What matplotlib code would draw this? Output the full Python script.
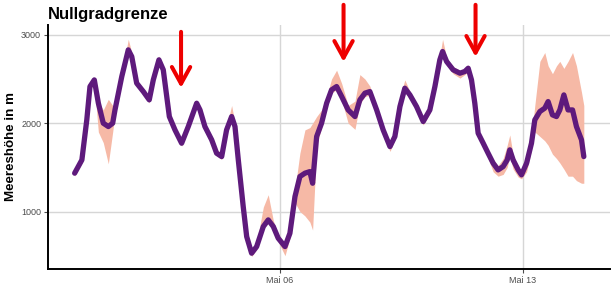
import numpy as np
import pandas as pd
import matplotlib
matplotlib.use("Agg")
import matplotlib.pyplot as plt

plt.rcParams["font.family"] = ["Liberation Sans", "DejaVu Sans"]

# Stunden seit 30. April 00:00
hours = [2, 7, 10.4, 12.6, 15.6, 18.4, 21.8, 25.3, 28.3, 29.9,
         34.6, 39.1, 41.5, 44.9, 49.5, 53.6, 56.4, 60.3, 63.3, 67.5,
         71.4, 76.0, 80.6, 86.4, 88.7, 92.1, 96.8, 100.2, 103.7, 107.1,
         110.6, 112.9, 115.2, 118.6, 121.0, 124.4, 127.9, 132.5, 135.9, 139.4,
         142.8, 147.5, 150.9, 154.4, 157.8, 161.3, 164.7, 166.6, 169.4, 172.8,
         176.3, 179.7, 183.2, 186.7, 191.2, 195.9, 199.3, 202.8, 206.2, 210.9,
         215.4, 220.1, 223.5, 227.0, 230.4, 233.9, 238.5, 243.1, 247.7, 251.2,
         254.6, 256.5, 259.3, 263.8, 268.5, 271.9, 274.2, 276.5, 278.8, 281.1,
         284.6, 288.0, 291.5, 294.9, 298.4, 301.2, 303.0, 305.3, 308.8, 311.1,
         314.6, 318.0, 320.3, 323.8, 327.2, 329.5, 332.5, 335.3, 337.6, 340.4,
         343.3, 346.4, 349.1, 352.6, 354.2]

# Median der Nullgradgrenze (m)
median = [1434, 1584, 2037, 2415, 2490, 2227, 2000, 1962, 2000, 2150,
          2528, 2830, 2754, 2453, 2358, 2264, 2490, 2717, 2604, 2075,
          1924, 1773, 1962, 2226, 2150, 1962, 1811, 1660, 1622, 1924,
          2075, 1962, 1584, 1056, 716, 528, 603, 830, 905, 830,
          698, 603, 754, 1169, 1396, 1434, 1452, 1320, 1849, 2000,
          2226, 2377, 2415, 2302, 2150, 2075, 2264, 2340, 2358, 2150,
          1924, 1735, 1849, 2188, 2396, 2320, 2188, 2019, 2150, 2415,
          2717, 2811, 2698, 2604, 2566, 2585, 2622, 2490, 2226, 1887,
          1773, 1660, 1547, 1471, 1509, 1584, 1698, 1584, 1471, 1415,
          1547, 1773, 2037, 2132, 2170, 2245, 2094, 2075, 2150, 2320,
          2150, 2150, 1962, 1811, 1622]

# Streubereich oben / unten (m)
upper = [1480, 1630, 2080, 2450, 2520, 2250, 2150, 2270, 2200, 2200,
         2560, 2950, 2800, 2490, 2390, 2300, 2520, 2760, 2640, 2110,
         1960, 1810, 2000, 2260, 2190, 2000, 1850, 1700, 1660, 1960,
         2200, 2000, 1620, 1090, 750, 560, 640, 1050, 1190, 900,
         730, 640, 790, 1250, 1660, 1924, 1950, 2000, 2075, 2150,
         2300, 2500, 2600, 2450, 2200, 2250, 2550, 2500, 2420, 2190,
         1960, 1770, 1890, 2300, 2490, 2360, 2230, 2060, 2190, 2450,
         2760, 2950, 2740, 2640, 2600, 2620, 2660, 2530, 2260, 1920,
         1810, 1700, 1590, 1520, 1600, 1750, 1867, 1640, 1510, 1460,
         1600, 1850, 2200, 2700, 2800, 2650, 2560, 2650, 2700, 2620,
         2700, 2800, 2650, 2350, 2200]

lower = [1400, 1550, 2000, 2380, 2440, 1900, 1780, 1540, 1900, 2100,
         2490, 2790, 2720, 2420, 2320, 2230, 2450, 2680, 2570, 2040,
         1890, 1740, 1930, 2190, 2110, 1930, 1780, 1630, 1590, 1890,
         2040, 1930, 1550, 1020, 680, 490, 570, 800, 870, 790,
         660, 500, 700, 1100, 1000, 950, 880, 790, 1750, 1950,
         2190, 2340, 2380, 2260, 2000, 1930, 2220, 2300, 2320, 2110,
         1890, 1680, 1810, 2150, 2360, 2280, 2150, 1980, 2110, 2380,
         2680, 2780, 2660, 2560, 2510, 2550, 2580, 2450, 2190, 1850,
         1730, 1600, 1450, 1400, 1420, 1500, 1620, 1480, 1390, 1370,
         1450, 1700, 1900, 1850, 1800, 1750, 1650, 1600, 1550, 1480,
         1400, 1400, 1350, 1320, 1320]

start = pd.Timestamp("2024-04-30")
t = start + pd.to_timedelta(hours, unit="h")

fig = plt.figure(figsize=(6.16, 3.07), dpi=100)
ax = fig.add_axes([0.078, 0.124, 0.912, 0.795])

ax.fill_between(t, lower, upper, color="#f6b9a6", lw=0, zorder=2)
ax.plot(t, median, color="#5e1a7c", lw=3.8, solid_capstyle="round",
        solid_joinstyle="round", zorder=3)

ax.set_xlim(start + pd.Timedelta(hours=-16.4), start + pd.Timedelta(hours=372.2))
ax.set_ylim(350, 3113)

ticks = [pd.Timestamp("2024-05-06"), pd.Timestamp("2024-05-13")]
ax.set_xticks(ticks)
ax.set_xticklabels(["Mai 06", "Mai 13"])
ax.set_yticks([1000, 2000, 3000])
ax.set_yticklabels(["1000", "2000", "3000"])

ax.grid(True, color="#d6d6d6", lw=1.0, zorder=0)
ax.set_axisbelow(True)
for s in ["top", "right"]:
    ax.spines[s].set_visible(False)
for s in ["left", "bottom"]:
    ax.spines[s].set_color("black")
    ax.spines[s].set_linewidth(1.4)
ax.tick_params(colors="#4d4d4d", labelsize=6.5, length=3, width=0.8, pad=2)

ax.set_ylabel("Meereshöhe in m", fontsize=9.6, fontweight="bold")
ax.yaxis.set_label_coords(-0.056, 0.5)

fig.text(0.078, 0.938, "Nullgradgrenze", fontsize=12, fontweight="bold",
         va="baseline", ha="left")

# rote Pfeile
arrows = [(75.6, 3034, 2400), (188.0, 3340, 2694), (279.3, 3340, 2751)]
for h, y0, y1 in arrows:
    x = start + pd.Timedelta(hours=h)
    ax.annotate("", xy=(x, y1), xytext=(x, y0), annotation_clip=False,
                arrowprops=dict(arrowstyle="->,head_length=0.6,head_width=0.33",
                                color="#ee0000", lw=2.9, mutation_scale=20,
                                shrinkA=0, shrinkB=0),
                zorder=5)

fig.savefig("out.png", dpi=100)
